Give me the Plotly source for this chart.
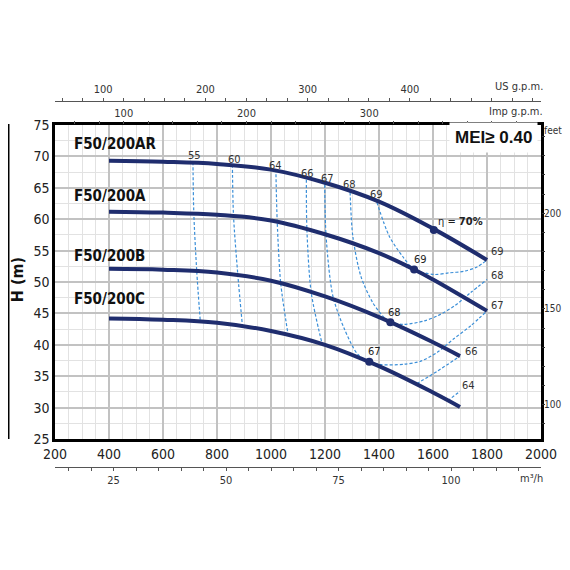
import plotly.graph_objects as go

# flow in l/min, head in m
q_ar = [400, 600, 800, 1000, 1200, 1400, 1600, 1800]
h_ar = [69.3, 69.15, 68.8, 67.9, 65.8, 62.8, 58.5, 53.5]

q_a = [400, 600, 800, 1000, 1200, 1400, 1530, 1600, 1800]
h_a = [61.2, 61.05, 60.7, 59.8, 57.6, 54.6, 52.0, 50.4, 45.4]

q_b = [400, 600, 800, 1000, 1200, 1400, 1600, 1700]
h_b = [52.1, 51.95, 51.5, 50.2, 47.7, 44.4, 40.4, 38.2]

q_c = [400, 600, 800, 1000, 1200, 1400, 1600, 1700]
h_c = [44.2, 44.0, 43.5, 42.2, 40.0, 36.6, 32.4, 30.1]

curve_names = ["F50/200AR", "F50/200A", "F50/200B", "F50/200C"]
name_q = [262, 262, 262, 262]
name_h = [71.9, 63.7, 54.1, 47.3]

# best efficiency points
bep_q = [1603, 1530, 1442, 1364]
bep_h = [58.3, 52.0, 43.6, 37.3]
bep_txt = ["η = <b>70%</b>", "69", "68", "67"]
bep_txt_q = [1612, 1552, 1459, 1385]
bep_txt_h = [59.65, 53.6, 45.1, 38.9]

# iso-efficiency lines
e55_q = [711, 714, 725, 738]
e55_h = [69.1, 61.1, 51.7, 43.8]
e60_q = [857, 861, 877, 894]
e60_h = [68.7, 60.7, 51.2, 43.1]
e64_q = [1018, 1023, 1036, 1063]
e64_h = [68.0, 59.6, 49.8, 41.7]
e66_q = [1131, 1133, 1149, 1189]
e66_h = [66.3, 58.3, 48.3, 40.2]
e67_q = [1199, 1204, 1229, 1272, 1321, 1364, 1407, 1493, 1555, 1616, 1678, 1739, 1800]
e67_h = [65.5, 57.3, 47.8, 42.5, 38.5, 37.3, 36.85, 36.9, 37.4, 38.8, 41.0, 43.0, 45.4]
e68_q = [1293, 1303, 1333, 1377, 1420, 1442, 1493, 1567, 1616, 1680, 1739, 1800]
e68_h = [64.3, 57.3, 50.9, 46.7, 44.3, 43.6, 43.25, 43.8, 44.6, 46.2, 48.3, 50.4]
e69_q = [1392, 1438, 1487, 1530, 1604, 1659, 1714, 1763, 1800]
e69_h = [62.7, 57.3, 54.1, 52.0, 51.2, 51.45, 51.7, 52.4, 53.5]
e66r_q = [1540, 1616, 1700]
e66r_h = [33.8, 35.8, 38.2]
e64r_q = [1655, 1700]
e64r_h = [31.1, 32.6]

top_lbl = ["55", "60", "64", "66", "67", "68", "69"]
top_lbl_q = [717, 864, 1018, 1137, 1211, 1291, 1389]
top_lbl_h = [70.2, 69.55, 68.5, 67.3, 66.5, 65.5, 63.9]
end_lbl = ["69", "68", "67", "66", "64"]
end_lbl_q = [1806, 1806, 1806, 1712, 1700]
end_lbl_h = [54.9, 51.0, 46.3, 38.9, 33.5]

# secondary scales
us_ticks = list(range(60, 521, 20))
imp_ticks = list(range(60, 421, 20))
m3h_ticks = list(range(15, 116, 5))
ft_ticks = list(range(90, 241, 10))

NAVY = "#1f2d6e"
DASH = "#3b8fd8"
FONT = "DejaVu Sans Condensed, Liberation Sans Narrow, sans-serif"
FONT_B = "Liberation Sans, DejaVu Sans, sans-serif"

fig = go.Figure()

for q, h in [(e55_q, e55_h), (e60_q, e60_h), (e64_q, e64_h), (e66_q, e66_h),
             (e67_q, e67_h), (e68_q, e68_h), (e69_q, e69_h),
             (e66r_q, e66r_h), (e64r_q, e64r_h)]:
    fig.add_trace(go.Scatter(x=q, y=h, mode="lines", hoverinfo="skip",
                             line=dict(color=DASH, width=1.2, dash="3px,2px",
                                       shape="spline", smoothing=0.8)))

for q, h in [(q_ar, h_ar), (q_a, h_a), (q_b, h_b), (q_c, h_c)]:
    fig.add_trace(go.Scatter(x=q, y=h, mode="lines",
                             line=dict(color=NAVY, width=4, shape="spline", smoothing=1.1)))

fig.add_trace(go.Scatter(x=bep_q, y=bep_h, mode="markers",
                         marker=dict(color=NAVY, size=8)))

# same AR curve in the other units, invisible, so the extra scales get drawn
fig.add_trace(go.Scatter(x=[q / 3.78541 for q in q_ar], y=h_ar, xaxis="x2", yaxis="y",
                         mode="lines", line=dict(width=0), opacity=0, hoverinfo="skip"))
fig.add_trace(go.Scatter(x=[q / 4.54609 for q in q_ar], y=h_ar, xaxis="x3", yaxis="y",
                         mode="lines", line=dict(width=0), opacity=0, hoverinfo="skip"))
fig.add_trace(go.Scatter(x=[q * 0.06 for q in q_ar], y=h_ar, xaxis="x4", yaxis="y",
                         mode="lines", line=dict(width=0), opacity=0, hoverinfo="skip"))
fig.add_trace(go.Scatter(x=q_ar, y=[h / 0.3048 for h in h_ar], xaxis="x", yaxis="y2",
                         mode="lines", line=dict(width=0), opacity=0, hoverinfo="skip"))

annotations = []
for t, q, h in zip(curve_names, name_q, name_h):
    annotations.append(dict(x=q, y=h, text="<b>" + t + "</b>", showarrow=False,
                            xanchor="left", font=dict(family=FONT, size=15, color="#111")))
for t, q, h in zip(top_lbl, top_lbl_q, top_lbl_h):
    annotations.append(dict(x=q, y=h, text=t, showarrow=False,
                            font=dict(family=FONT, size=11, color="#333")))
for t, q, h in zip(end_lbl, end_lbl_q, end_lbl_h):
    annotations.append(dict(x=q, y=h, text=t, showarrow=False, xanchor="left",
                            font=dict(family=FONT, size=11, color="#333")))
for i, (t, q, h) in enumerate(zip(bep_txt, bep_txt_q, bep_txt_h)):
    annotations.append(dict(x=q, y=h, text=t, showarrow=False,
                            xanchor="left" if i == 0 else "center",
                            font=dict(family=FONT, size=11, color="#222")))

# text outside the plot area (paper coordinates)
small = dict(family=FONT, size=11, color="#333")
annotations += [
    dict(xref="paper", yref="paper", x=1.008, y=0.985, text="US g.p.m.",
         showarrow=False, xanchor="right", yanchor="middle", font=small),
    dict(xref="paper", yref="paper", x=1.008, y=0.924, text="Imp g.p.m.",
         showarrow=False, xanchor="right", yanchor="middle", font=small),
    dict(xref="paper", yref="paper", x=1.008, y=0.029, text="m³/h",
         showarrow=False, xanchor="right", yanchor="middle", font=small),
    dict(xref="paper", yref="paper", x=1.002, y=0.878, text="feet",
         showarrow=False, xanchor="left", yanchor="middle",
         font=dict(family=FONT, size=10, color="#333")),
    dict(xref="paper", yref="paper", x=0.994, y=0.86, text="<b>MEI≥ 0.40</b>",
         showarrow=False, xanchor="right", yanchor="middle", bgcolor="white",
         borderpad=5, font=dict(family=FONT_B, size=17, color="#111")),
    dict(xref="paper", yref="paper", x=-0.078, y=0.512, text="<b>H (m)</b>",
         showarrow=False, textangle=-90, xanchor="center", yanchor="middle",
         font=dict(family=FONT, size=16, color="#111")),
]

fig.update_layout(
    width=562, height=540,
    margin=dict(l=47, r=29, t=72, b=58, autoexpand=False),
    paper_bgcolor="white", plot_bgcolor="white",
    showlegend=False,
    font=dict(family=FONT, size=13, color="#222"),
    annotations=annotations,
    shapes=[dict(type="line", xref="paper", yref="paper", x0=-0.0957, x1=-0.0957,
                 y0=0.1244, y1=0.8927, line=dict(color="black", width=2))],
    xaxis=dict(range=[200, 2000], domain=[0, 1], tick0=0, dtick=200, automargin=False,
               showgrid=True, gridcolor="#c2c2c2", gridwidth=2,
               minor=dict(dtick=50, showgrid=True, gridcolor="#e2e2e2", gridwidth=1),
               showline=True, linecolor="black", linewidth=2.5, mirror=True,
               ticks="", zeroline=False, tickfont=dict(size=14)),
    yaxis=dict(range=[25, 75], domain=[0.1244, 0.8902], tick0=0, dtick=5, automargin=False,
               showgrid=True, gridcolor="#c2c2c2", gridwidth=2,
               minor=dict(dtick=2.5, showgrid=True, gridcolor="#e2e2e2", gridwidth=1),
               showline=True, linecolor="black", linewidth=2.5, mirror=True,
               ticks="", zeroline=False, tickfont=dict(size=14)),
    xaxis2=dict(overlaying="x", side="top", anchor="free", position=0.9495,
                range=[200 / 3.78541, 2000 / 3.78541], automargin=False,
                tickvals=us_ticks,
                ticktext=[str(v) if v % 100 == 0 and v < 500 else "" for v in us_ticks],
                ticks="outside", ticklen=3, tickcolor="#555",
                showline=True, linecolor="#555", linewidth=1,
                showgrid=False, zeroline=False, tickfont=dict(size=11, color="#333")),
    xaxis3=dict(overlaying="x", side="top", anchor="y",
                range=[200 / 4.54609, 2000 / 4.54609], automargin=False,
                tickvals=imp_ticks,
                ticktext=[str(v) if v % 100 == 0 and v < 400 else "" for v in imp_ticks],
                ticks="outside", ticklen=3, tickcolor="#555",
                showline=False, showgrid=False, zeroline=False,
                tickfont=dict(size=11, color="#333")),
    xaxis4=dict(overlaying="x", side="bottom", anchor="free", position=0.0568,
                range=[200 * 0.06, 2000 * 0.06], automargin=False,
                tickvals=m3h_ticks,
                ticktext=[str(v) if v % 25 == 0 else "" for v in m3h_ticks],
                ticks="outside", ticklen=3, tickcolor="#555",
                showline=True, linecolor="#555", linewidth=1,
                showgrid=False, zeroline=False, tickfont=dict(size=11, color="#333")),
    yaxis2=dict(overlaying="y", side="right", anchor="x",
                range=[25 / 0.3048, 75 / 0.3048], automargin=False,
                tickvals=ft_ticks,
                ticktext=[str(v) if v % 50 == 0 else "" for v in ft_ticks],
                ticks="outside", ticklen=3, tickcolor="#333", ticklabelstandoff=-3,
                showgrid=False, zeroline=False, tickfont=dict(size=10, color="#333")),
)

fig.write_html("out.html")
